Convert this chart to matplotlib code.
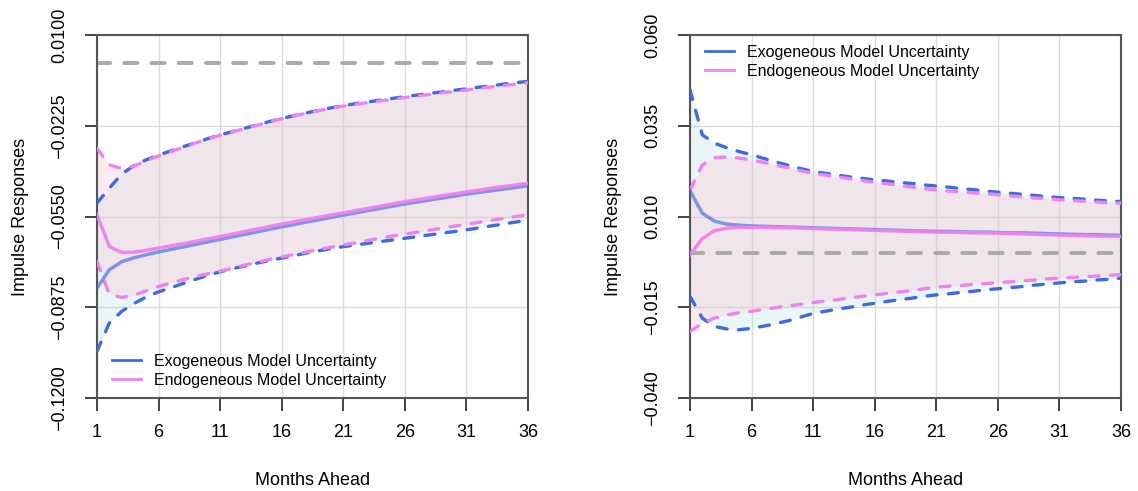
import matplotlib
matplotlib.use("Agg")
import matplotlib.pyplot as plt
from matplotlib.lines import Line2D

plt.rcParams['font.family'] = ['Liberation Sans', 'DejaVu Sans']

months = list(range(1, 37))
x_ticks = [1, 6, 11, 16, 21, 26, 31, 36]
series_names = ["Exogeneous Model Uncertainty", "Endogeneous Model Uncertainty"]

# left panel
left_ticks = [0.0100, -0.0225, -0.0550, -0.0875, -0.1200]
left_tick_labels = ["0.0100", "\u22120.0225", "\u22120.0550", "\u22120.0875", "\u22120.1200"]
left_exo_mid = [-0.0806, -0.0741, -0.0712, -0.0698, -0.0687, -0.0677, -0.0668, -0.0659, -0.0650, -0.0641,
                -0.0632, -0.0623, -0.0614, -0.0605, -0.0596, -0.0587, -0.0579, -0.0570, -0.0562, -0.0553,
                -0.0545, -0.0537, -0.0529, -0.0521, -0.0513, -0.0505, -0.0498, -0.0491, -0.0484, -0.0477,
                -0.0470, -0.0464, -0.0458, -0.0452, -0.0446, -0.0440]
left_endo_mid = [-0.0544, -0.0657, -0.0679, -0.0678, -0.0671, -0.0663, -0.0655, -0.0647, -0.0639, -0.0630,
                 -0.0622, -0.0613, -0.0604, -0.0595, -0.0586, -0.0577, -0.0569, -0.0561, -0.0553, -0.0545,
                 -0.0537, -0.0529, -0.0521, -0.0513, -0.0505, -0.0497, -0.0490, -0.0483, -0.0476, -0.0469,
                 -0.0462, -0.0456, -0.0449, -0.0443, -0.0437, -0.0431]
left_exo_hi = [-0.0502, -0.0449, -0.0398, -0.0368, -0.0347, -0.0330, -0.0315, -0.0300, -0.0286, -0.0271,
               -0.0258, -0.0246, -0.0234, -0.0222, -0.0210, -0.0199, -0.0189, -0.0179, -0.0170, -0.0161,
               -0.0153, -0.0146, -0.0140, -0.0133, -0.0127, -0.0121, -0.0115, -0.0109, -0.0104, -0.0098,
               -0.0093, -0.0087, -0.0082, -0.0076, -0.0071, -0.0066]
left_endo_hi = [-0.0306, -0.0365, -0.0378, -0.0370, -0.0350, -0.0333, -0.0318, -0.0302, -0.0287, -0.0272,
                -0.0259, -0.0247, -0.0235, -0.0223, -0.0211, -0.0200, -0.0190, -0.0180, -0.0171, -0.0162,
                -0.0155, -0.0148, -0.0142, -0.0136, -0.0130, -0.0124, -0.0118, -0.0113, -0.0107, -0.0102,
                -0.0097, -0.0091, -0.0086, -0.0081, -0.0076, -0.0071]
left_exo_lo = [-0.1033, -0.0932, -0.0890, -0.0862, -0.0838, -0.0820, -0.0805, -0.0790, -0.0775, -0.0761,
               -0.0748, -0.0737, -0.0727, -0.0717, -0.0708, -0.0699, -0.0690, -0.0681, -0.0673, -0.0665,
               -0.0658, -0.0652, -0.0646, -0.0640, -0.0634, -0.0628, -0.0622, -0.0616, -0.0610, -0.0604,
               -0.0598, -0.0591, -0.0584, -0.0577, -0.0570, -0.0563]
left_endo_lo = [-0.0711, -0.0828, -0.0840, -0.0832, -0.0816, -0.0801, -0.0788, -0.0776, -0.0765, -0.0755,
                -0.0746, -0.0735, -0.0724, -0.0714, -0.0704, -0.0695, -0.0686, -0.0677, -0.0668, -0.0660,
                -0.0652, -0.0644, -0.0636, -0.0628, -0.0620, -0.0613, -0.0606, -0.0599, -0.0592, -0.0585,
                -0.0578, -0.0571, -0.0564, -0.0557, -0.0550, -0.0544]

# right panel
right_ticks = [0.060, 0.035, 0.010, -0.015, -0.040]
right_tick_labels = ["0.060", "0.035", "0.010", "\u22120.015", "\u22120.040"]
right_exo_hi = [0.0449, 0.0325, 0.0302, 0.0289, 0.0279, 0.0270, 0.0260, 0.0250, 0.0241, 0.0232,
                0.0224, 0.0219, 0.0214, 0.0209, 0.0205, 0.0201, 0.0198, 0.0194, 0.0191, 0.0187,
                0.0184, 0.0181, 0.0177, 0.0174, 0.0170, 0.0167, 0.0164, 0.0161, 0.0158, 0.0155,
                0.0152, 0.0150, 0.0148, 0.0145, 0.0143, 0.0141]
right_endo_hi = [0.0173, 0.0242, 0.0262, 0.0264, 0.0261, 0.0256, 0.0249, 0.0241, 0.0234, 0.0226,
                 0.0219, 0.0214, 0.0209, 0.0204, 0.0199, 0.0194, 0.0190, 0.0186, 0.0181, 0.0177,
                 0.0173, 0.0170, 0.0168, 0.0165, 0.0163, 0.0160, 0.0157, 0.0154, 0.0151, 0.0149,
                 0.0146, 0.0144, 0.0142, 0.0140, 0.0138, 0.0137]
right_exo_mid = [0.0171, 0.0109, 0.0087, 0.0079, 0.0076, 0.0074, 0.0073, 0.0072, 0.0071, 0.0070,
                 0.0069, 0.0068, 0.0067, 0.0066, 0.0065, 0.0064, 0.0063, 0.0062, 0.0061, 0.0060,
                 0.0059, 0.0059, 0.0058, 0.0057, 0.0057, 0.0056, 0.0055, 0.0055, 0.0054, 0.0053,
                 0.0052, 0.0051, 0.0050, 0.0050, 0.0049, 0.0048]
right_endo_mid = [-0.0005, 0.0039, 0.0061, 0.0068, 0.0070, 0.0070, 0.0070, 0.0069, 0.0069, 0.0068,
                  0.0067, 0.0066, 0.0065, 0.0064, 0.0063, 0.0062, 0.0061, 0.0060, 0.0059, 0.0058,
                  0.0057, 0.0057, 0.0056, 0.0055, 0.0055, 0.0054, 0.0053, 0.0052, 0.0051, 0.0050,
                  0.0049, 0.0048, 0.0047, 0.0046, 0.0046, 0.0045]
right_exo_lo = [-0.0120, -0.0180, -0.0203, -0.0210, -0.0212, -0.0208, -0.0202, -0.0195, -0.0187, -0.0177,
                -0.0167, -0.0161, -0.0155, -0.0150, -0.0144, -0.0139, -0.0134, -0.0129, -0.0125, -0.0120,
                -0.0116, -0.0113, -0.0109, -0.0106, -0.0102, -0.0099, -0.0096, -0.0093, -0.0089, -0.0086,
                -0.0083, -0.0080, -0.0078, -0.0075, -0.0073, -0.0070]
right_endo_lo = [-0.0217, -0.0194, -0.0180, -0.0171, -0.0165, -0.0161, -0.0156, -0.0151, -0.0146, -0.0142,
                 -0.0137, -0.0133, -0.0129, -0.0124, -0.0120, -0.0116, -0.0112, -0.0108, -0.0104, -0.0099,
                 -0.0095, -0.0092, -0.0090, -0.0087, -0.0085, -0.0082, -0.0080, -0.0077, -0.0075, -0.0072,
                 -0.0070, -0.0068, -0.0066, -0.0064, -0.0062, -0.0060]

BLUE = "#4169E1"
PINK = "#EE82EE"
DASH = (3.0, 3.4)


def draw_panel(ax, exo, endo, yticks, ylabels, legend_anchor, legend_loc):
    exo_lo, exo_mid, exo_hi = exo
    endo_lo, endo_mid, endo_hi = endo
    ax.set_xlim(1, 36)
    ax.set_ylim(yticks[-1], yticks[0])
    ax.grid(True, color="#DCDCDC", lw=1.0)
    ax.set_axisbelow(True)

    ax.fill_between(months, exo_lo, exo_hi, color="#ADD8E6", alpha=0.25, lw=0)
    ax.fill_between(months, endo_lo, endo_hi, color="#FFC0CB", alpha=0.3, lw=0)
    ax.axhline(0, color="#AAAAAA", lw=2.8, dashes=(3.4, 3.6), dash_capstyle="round", zorder=2)

    for lo, hi, c in [(exo_lo, exo_hi, BLUE), (endo_lo, endo_hi, PINK)]:
        ax.plot(months, hi, color=c, lw=2.4, dashes=DASH, dash_capstyle="round", zorder=3)
        ax.plot(months, lo, color=c, lw=2.4, dashes=DASH, dash_capstyle="round", zorder=3)
    ax.plot(months, exo_mid, color=BLUE, lw=2.5, alpha=0.65, zorder=4)
    ax.plot(months, endo_mid, color=PINK, lw=2.5, alpha=0.95, zorder=4)

    ax.set_xticks(x_ticks)
    ax.set_yticks(yticks)
    ax.set_yticklabels(ylabels, rotation=90, va="center")
    ax.tick_params(axis="both", labelsize=13, length=9, width=1.2, color="#222222")
    ax.tick_params(axis="x", pad=10)
    ax.tick_params(axis="y", pad=12)
    for s in ax.spines.values():
        s.set_color("#555555")
        s.set_linewidth(1.5)
    ax.set_xlabel("Months Ahead", fontsize=13, labelpad=22)
    ax.set_ylabel("Impulse Responses", fontsize=13, labelpad=16)

    handles = [Line2D([], [], color=BLUE, lw=2), Line2D([], [], color=PINK, lw=2)]
    ax.legend(handles, series_names, loc=legend_loc, bbox_to_anchor=legend_anchor, frameon=False,
              fontsize=11.5, handlelength=1.8, handletextpad=0.85, labelspacing=0.25, borderaxespad=0.0)


fig = plt.figure(figsize=(11.38, 4.91), dpi=100)
ax1 = fig.add_axes([0.0852, 0.1894, 0.3787, 0.7393])
ax2 = fig.add_axes([0.6063, 0.1894, 0.3787, 0.7393])

draw_panel(ax1, (left_exo_lo, left_exo_mid, left_exo_hi), (left_endo_lo, left_endo_mid, left_endo_hi),
           left_ticks, left_tick_labels, (0.02, 0.01), "lower left")
draw_panel(ax2, (right_exo_lo, right_exo_mid, right_exo_hi), (right_endo_lo, right_endo_mid, right_endo_hi),
           right_ticks, right_tick_labels, (0.02, 0.99), "upper left")

fig.savefig("out.png", dpi=100)
